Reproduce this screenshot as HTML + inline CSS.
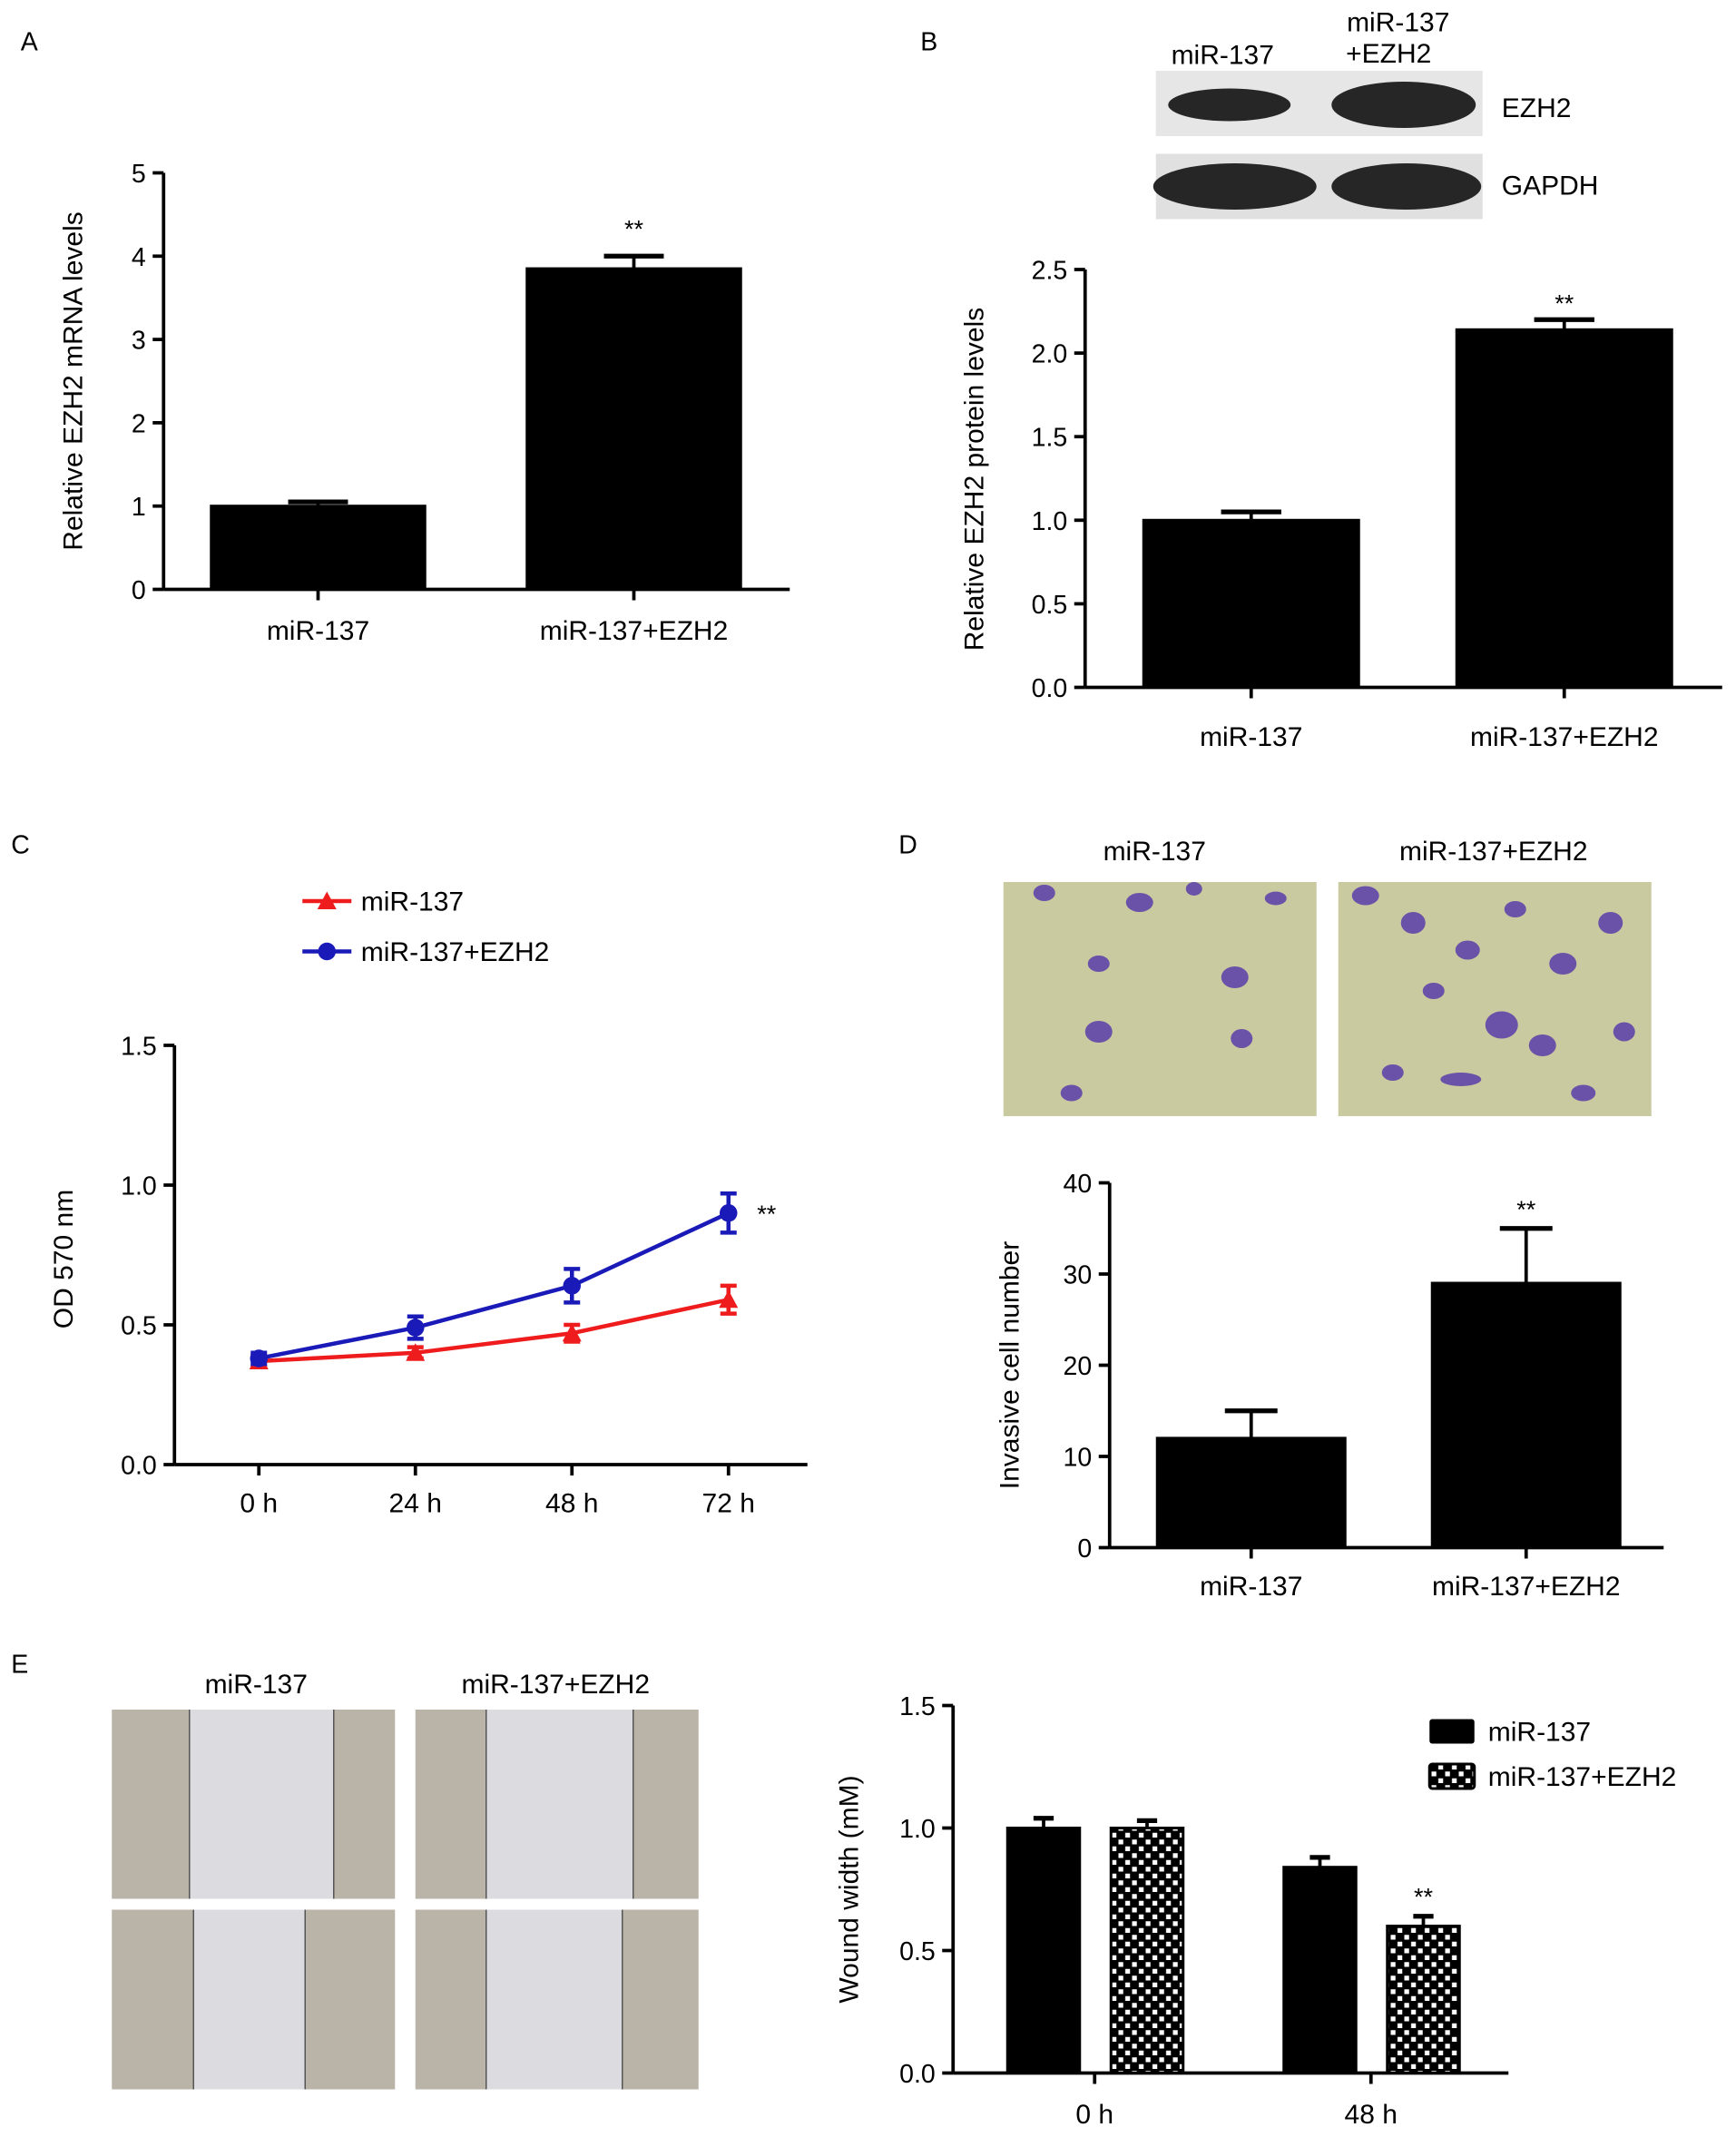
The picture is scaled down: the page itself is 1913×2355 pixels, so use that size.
<!DOCTYPE html>
<html><head><meta charset="utf-8"><style>
html,body{margin:0;padding:0;background:#fff;}
svg{display:block;font-family:"Liberation Sans",Arial,sans-serif;}
</style></head><body>
<svg id="fig" width="1913" height="2355" viewBox="0 0 1275 1570" xmlns="http://www.w3.org/2000/svg">
<defs>
<pattern id="chk" width="10" height="10" patternUnits="userSpaceOnUse">
<rect width="10" height="10" fill="#000"/><rect x="1.5" y="1.5" width="3.5" height="3.5" fill="#fff"/><rect x="6.5" y="6.5" width="3.5" height="3.5" fill="#fff"/>
</pattern>
</defs>
<g id="root"></g>
</svg>
<script>
// Panel A data
const aCats=["miR-137","miR-137+EZH2"];
const aVals=[1.0,3.85];
const aErr=[0.05,0.15];
const aTicks=[0,1,2,3,4,5];
// Panel B data
const bCats=["miR-137","miR-137+EZH2"];
const bVals=[1.0,2.14];
const bErr=[0.05,0.06];
const bTicks=["0.0","0.5","1.0","1.5","2.0","2.5"];
// Panel C data
const cCats=["0 h","24 h","48 h","72 h"];
const cRed=[0.37,0.40,0.47,0.59];
const cRedErr=[0.02,0.02,0.03,0.05];
const cBlue=[0.38,0.49,0.64,0.90];
const cBlueErr=[0.02,0.04,0.06,0.07];
const cTicks=["0.0","0.5","1.0","1.5"];
// Panel D data
const dCats=["miR-137","miR-137+EZH2"];
const dVals=[12,29];
const dErr=[3,6];
const dTicks=[0,10,20,30,40];
// Panel E data
const eCats=["0 h","48 h"];
const eBlack=[1.0,0.84];
const eBlackErr=[0.04,0.04];
const eChk=[1.0,0.60];
const eChkErr=[0.03,0.04];
const eTicks=["0.0","0.5","1.0","1.5"];

const NS="http://www.w3.org/2000/svg";
const root=document.getElementById('root');
function mk(tag,attrs,parent,text){const e=document.createElementNS(NS,tag);for(const k in attrs)e.setAttribute(k,attrs[k]);if(text!==undefined)e.textContent=text;(parent||root).appendChild(e);return e;}
function txt(x,y,s,size,name,anchor,extra){const t=mk('text',Object.assign({x:x,y:y,'font-size':size,'text-anchor':anchor||'middle',fill:'#000'},extra||{}),root,s);


return t;}
function line(x1,y1,x2,y2,w,col,name){const l=mk('line',{x1:x1,y1:y1,x2:x2,y2:y2,stroke:col||'#000','stroke-width':w||2.5});


return l;}
function yAxis(x,yTop,yBot,ticks,max,name){line(x,yTop,x,yBot,2.5,'#000',name+'-y-axis');
ticks.forEach(t=>{const v=parseFloat(t);const y=yBot-(v/max)*(yBot-yTop);line(x-8,y,x,y,2.5,'#000',name+'-y-tick');txt(x-13,y+7,String(t),19,name+'-y-tick-label','end');});}
function bar(x,w,y0,sc,val,err,fill,name){const y=y0-val*sc;const r=mk('rect',{x:x,y:y,width:w,height:val*sc,fill:fill,stroke:'#000','stroke-width':2});


const cx=x+w/2,ye=y0-(val+err)*sc;line(cx,y,cx,ye,2.5,'#000',name+'-error');line(cx-w*0.14,ye,cx+w*0.14,ye,3.5,'#000',name+'-error-cap');}

// Panel labels
[["A",15,37],["B",676,37],["C",8,627],["D",660,627],["E",8,1229]].forEach(p=>txt(p[1],p[2],p[0],19,'panel-label-'+p[0].toLowerCase(),'start'));

// ---------- Panel A ----------
(function(){const x0=120,yT=127,y0=433,max=5,sc=(y0-yT)/max;
yAxis(x0,yT,y0,aTicks,max,'a');line(x0,y0,580,y0,2.5,'#000','a-x-axis');
const xs=[155,387],w=157;
aCats.forEach((c,i)=>{bar(xs[i],w,y0,sc,aVals[i],aErr[i],'#000','a-bar-'+i);line(xs[i]+w/2,y0,xs[i]+w/2,y0+8,2.5,'#000','a-x-tick');txt(xs[i]+w/2,470,c,20,'a-x-label');});
txt(xs[1]+w/2,y0-(aVals[1]+aErr[1])*sc-14,'**',18,'a-significance');
txt(60,280,'Relative EZH2 mRNA levels',20,'a-y-axis-title','middle',{transform:'rotate(-90 60 280)'});})();

// ---------- Panel B ----------
(function(){
// blots
const g1=mk('rect',{x:849,y:52,width:240,height:48,fill:'#e6e6e6'});
const g2=mk('rect',{x:849,y:113,width:240,height:48,fill:'#e0e0e0'});
[[903,77,45,12],[1031,77,53,17],[907,137,60,17],[1033,137,55,17]].forEach((b,i)=>{const e=mk('ellipse',{cx:b[0],cy:b[1],rx:b[2],ry:b[3],fill:'#262626'});});
txt(898,47,'miR-137',20,'blot-header-mir137');txt(1027,23,'miR-137',20,'blot-header-mir137-ezh2');txt(1020,46,'+EZH2',20,'blot-header-ezh2');
txt(1103,86,'EZH2',20,'blot-label-ezh2','start');txt(1103,143,'GAPDH',20,'blot-label-gapdh','start');
const x0=797,yT=198,y0=505,max=2.5,sc=(y0-yT)/max;
yAxis(x0,yT,y0,bTicks,max,'b');line(x0,y0,1265,y0,2.5,'#000','b-x-axis');
const xs=[840,1070],w=158;
bCats.forEach((c,i)=>{bar(xs[i],w,y0,sc,bVals[i],bErr[i],'#000','b-bar-'+i);line(xs[i]+w/2,y0,xs[i]+w/2,y0+8,2.5,'#000','b-x-tick');txt(xs[i]+w/2,548,c,20,'b-x-label');});
txt(xs[1]+w/2,y0-(bVals[1]+bErr[1])*sc-6,'**',18,'b-significance');
txt(722,352,'Relative EZH2 protein levels',20,'b-y-axis-title','middle',{transform:'rotate(-90 722 352)'});})();

// ---------- Panel C ----------
(function(){const x0=128,yT=768,y0=1076,max=1.5,sc=(y0-yT)/max;
yAxis(x0,yT,y0,cTicks,max,'c');line(x0,y0,593,y0,2.5,'#000','c-x-axis');
const xPos=i=>190+i*115;
cCats.forEach((c,i)=>{line(xPos(i),y0,xPos(i),y0+8,2.5,'#000','c-x-tick');txt(xPos(i),1111,c,20,'c-x-label');});
function series(vals,errs,col,marker,name){
const pts=vals.map((v,i)=>xPos(i)+','+(y0-v*sc)).join(' ');
const pl=mk('polyline',{points:pts,fill:'none',stroke:col,'stroke-width':3});
vals.forEach((v,i)=>{const x=xPos(i),y=y0-v*sc,e=errs[i]*sc;line(x,y-e,x,y+e,3,col,name+'-error');line(x-6,y-e,x+6,y-e,3,col,name+'-error-cap');line(x-6,y+e,x+6,y+e,3,col,name+'-error-cap');
let m;if(marker==='c')m=mk('circle',{cx:x,cy:y,r:6.5,fill:col});else m=mk('polygon',{points:(x)+','+(y-7)+' '+(x-7)+','+(y+6)+' '+(x+7)+','+(y+6),fill:col});
});}
series(cRed,cRedErr,'#ee1c1c','t','c-mir137');
series(cBlue,cBlueErr,'#1a1ab8','c','c-mir137-ezh2');
txt(563,898,'**',18,'c-significance');
// legend
line(222,662,258,662,3,'#ee1c1c','c-legend-line-red');const lt=mk('polygon',{points:'240,655 233,668 247,668',fill:'#ee1c1c'});
txt(265,669,'miR-137',20,'c-legend-entry-mir137','start');
line(222,699,258,699,3,'#1a1ab8','c-legend-line-blue');const lc=mk('circle',{cx:240,cy:699,r:6.5,fill:'#1a1ab8'});
txt(265,706,'miR-137+EZH2',20,'c-legend-entry-mir137-ezh2','start');
txt(53,925,'OD 570 nm',20,'c-y-axis-title','middle',{transform:'rotate(-90 53 925)'});})();

// ---------- Panel D ----------
(function(){
function micro(x,y,name,blobs){const r=mk('rect',{x:x,y:y,width:230,height:172,fill:'#c9caa0'});
blobs.forEach(b=>{const e=mk('ellipse',{cx:x+b[0],cy:y+b[1],rx:b[2],ry:b[3],fill:'#6a52a8'});});}
micro(737,648,'d-micrograph-mir137',[[30,8,8,6],[70,60,8,6],[100,15,10,7],[170,70,10,8],[70,110,10,8],[50,155,8,6],[175,115,8,7],[200,12,8,5],[140,5,6,5]]);
micro(983,648,'d-micrograph-mir137-ezh2',[[20,10,10,7],[55,30,9,8],[95,50,9,7],[130,20,8,6],[165,60,10,8],[200,30,9,8],[120,105,12,10],[150,120,10,8],[90,145,15,5],[40,140,8,6],[210,110,8,7],[180,155,9,6],[70,80,8,6]]);
txt(848,632,'miR-137',20,'d-header-mir137');txt(1097,632,'miR-137+EZH2',20,'d-header-mir137-ezh2');
const x0=815,yT=869,y0=1137,max=40,sc=(y0-yT)/max;
yAxis(x0,yT,y0,dTicks,max,'d');line(x0,y0,1222,y0,2.5,'#000','d-x-axis');
const xs=[850,1052],w=138;
dCats.forEach((c,i)=>{bar(xs[i],w,y0,sc,dVals[i],dErr[i],'#000','d-bar-'+i);line(xs[i]+w/2,y0,xs[i]+w/2,y0+8,2.5,'#000','d-x-tick');txt(xs[i]+w/2,1172,c,20,'d-x-label');});
txt(xs[1]+w/2,y0-(dVals[1]+dErr[1])*sc-8,'**',18,'d-significance');
txt(748,1003,'Invasive cell number',20,'d-y-axis-title','middle',{transform:'rotate(-90 748 1003)'});})();

// ---------- Panel E ----------
(function(){
function wound(x,y,h,gl,gr,name){const r=mk('rect',{x:x,y:y,width:208,height:h,fill:'#b9b3a8'});
const gap=mk('rect',{x:x+gl,y:y,width:gr-gl,height:h,fill:'#dcdbe0'});
line(x+gl,y,x+gl,y+h,1,'#555','wound-edge');line(x+gr,y,x+gr,y+h,1,'#555','wound-edge');}
wound(82,1256,139,57,163,'e-micrograph-mir137-0h');wound(305,1256,139,52,160,'e-micrograph-ezh2-0h');
wound(82,1403,132,60,142,'e-micrograph-mir137-48h');wound(305,1403,132,52,152,'e-micrograph-ezh2-48h');
txt(188,1244,'miR-137',20,'e-header-mir137');txt(408,1244,'miR-137+EZH2',20,'e-header-mir137-ezh2');
const x0=700,yT=1253,y0=1523,max=1.5,sc=(y0-yT)/max;
yAxis(x0,yT,y0,eTicks,max,'e');line(x0,y0,1108,y0,2.5,'#000','e-x-axis');
const gx=[740,943],w=53;
eCats.forEach((c,i)=>{bar(gx[i],w,y0,sc,eBlack[i],eBlackErr[i],'#000','e-bar-black-'+i);bar(gx[i]+76,w,y0,sc,eChk[i],eChkErr[i],'url(#chk)','e-bar-checker-'+i);
const cx=gx[i]+64;line(cx,y0,cx,y0+8,2.5,'#000','e-x-tick');txt(cx,1560,c,20,'e-x-label');});
txt(gx[1]+76+w/2,y0-(eChk[1]+eChkErr[1])*sc-8,'**',18,'e-significance');
const l1=mk('rect',{x:1050,y:1263,width:33,height:18,fill:'#000',rx:2});
const l2=mk('rect',{x:1050,y:1296,width:33,height:18,fill:'url(#chk)',stroke:'#000','stroke-width':2,rx:2});
txt(1093,1279,'miR-137',20,'e-legend-entry-mir137','start');txt(1093,1312,'miR-137+EZH2',20,'e-legend-entry-mir137-ezh2','start');
txt(630,1388,'Wound width (mM)',20,'e-y-axis-title','middle',{transform:'rotate(-90 630 1388)'});})();
</script>
</body></html>
